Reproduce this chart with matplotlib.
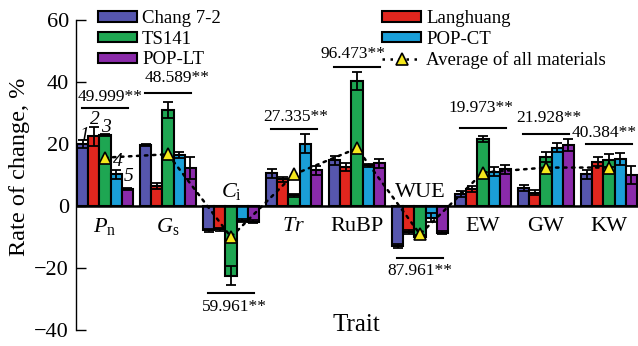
import matplotlib
matplotlib.use("Agg")
import matplotlib.pyplot as plt
import numpy as np
from matplotlib.patches import Patch
from matplotlib.lines import Line2D

plt.rcParams['font.family'] = ['Liberation Serif', 'DejaVu Serif']
plt.rcParams['mathtext.fontset'] = 'custom'
plt.rcParams['mathtext.rm'] = 'Liberation Serif'
plt.rcParams['mathtext.it'] = 'Liberation Serif:italic'

traits = [r'$P_\mathrm{n}$', r'$G_\mathrm{s}$', r'$C_\mathrm{i}$', r'$Tr$', 'RuBP', 'WUE', 'EW', 'GW', 'KW']
series_names = ['Chang 7-2', 'Langhuang', 'TS141', 'POP-CT', 'POP-LT']
chang = [20.0, 19.7, -7.8, 10.5, 14.7, -12.9, 3.8, 5.7, 10.2]
langhuang = [22.5, 6.5, -7.5, 8.6, 12.6, -8.4, 5.4, 4.3, 14.3]
ts141 = [22.8, 30.9, -22.5, 3.5, 40.3, -10.0, 21.5, 15.8, 14.7]
popct = [10.2, 16.5, -4.8, 20.1, 13.2, -3.8, 11.1, 18.8, 15.1]
poplt = [5.4, 12.2, -5.0, 11.5, 13.8, -8.6, 11.8, 19.7, 10.0]
err_chang = [1.2, 0.3, 0.5, 1.5, 1.5, 0.5, 1.0, 1.0, 1.5]
err_lang = [3.0, 1.0, 0.5, 0.8, 1.2, 0.5, 1.0, 0.8, 1.5]
err_ts = [0.3, 2.5, 3.0, 0.5, 3.0, 0.5, 1.0, 1.5, 2.0]
err_ct = [1.5, 1.0, 0.5, 3.0, 0.5, 1.5, 1.5, 1.5, 2.0]
err_lt = [0.3, 3.5, 0.5, 1.5, 1.5, 0.5, 1.5, 2.0, 3.0]
average = [15.6, 16.7, -10.0, 10.2, 18.6, -9.1, 10.8, 12.4, 12.4]
sig_labels = ['49.999**', '48.589**', '59.961**', '27.335**', '96.473**', '87.961**', '19.973**', '21.928**', '40.384**']
sig_line_y = [31.6, 36.5, -28.2, 24.7, 45.0, -16.9, 25.3, 23.3, 20.0]
sig_text_y = [35.2, 41.3, -32.5, 28.6, 48.9, -21.0, 31.5, 28.5, 23.4]
sig_text_dx = [0.08, 0.14, 0.06, 0.03, -0.06, 0.0, -0.03, 0.05, -0.08]
trait_label_y = [-6.5, -6.5, 4.8, -6.5, -6.5, 4.3, -6.5, -6.5, -6.5]
bar_numbers = ['1', '2', '3', '4', '5']
bar_number_y = [22.6, 28.0, 25.2, 14.5, 9.4]

colors = ['#5656AE', '#E1261E', '#1EA652', '#1A9FD8', '#8A2AAA']
values = [chang, langhuang, ts141, popct, poplt]
errors = [err_chang, err_lang, err_ts, err_ct, err_lt]

fig = plt.figure(figsize=(6.38, 3.46), dpi=100)
ax = fig.add_axes([76/638, 16/346, (638-76)/638, 310/346])

x = np.arange(len(traits))
w = 0.178
for i, (vals, errs, c) in enumerate(zip(values, errors, colors)):
    pos = x + (i - 2) * w
    ax.bar(pos, vals, width=w, color=c, edgecolor='black', linewidth=1.5, zorder=2)
    ax.errorbar(pos, vals, yerr=errs, fmt='none', ecolor='black', elinewidth=1.3,
                capsize=3.5, capthick=1.3, zorder=3)

ax.plot(x, average, linestyle=(0, (1, 2.2)), color='black', linewidth=1.8,
        dash_capstyle='round', zorder=4)
ax.plot(x, average, linestyle='none', marker='^', markersize=9, markerfacecolor='#F5E81C',
        markeredgecolor='black', markeredgewidth=1.2, zorder=5)

ax.axhline(0, color='black', linewidth=1.8, zorder=3)

for i in range(len(traits)):
    ax.plot([x[i] - 0.37, x[i] + 0.37], [sig_line_y[i]] * 2, color='black', linewidth=1.5)
    ax.text(x[i] + sig_text_dx[i], sig_text_y[i], sig_labels[i], ha='center', va='center', fontsize=12.5)
    ax.text(x[i], trait_label_y[i], traits[i], ha='center', va='center', fontsize=16)

for i, (t, yy) in enumerate(zip(bar_numbers, bar_number_y)):
    ax.text(x[0] + (i - 2) * w + 0.02, yy, t, ha='center', va='center', fontsize=14, style='italic')

ax.set_xlim(-0.46, 8.46)
ax.set_ylim(-40, 60)
ax.set_yticks([60, 40, 20, 0, -20, -40])
ax.tick_params(axis='y', direction='in', length=7, width=1, labelsize=16, pad=5)
ax.set_xticks([])
for s in ['top', 'right', 'bottom']:
    ax.spines[s].set_visible(False)
ax.spines['left'].set_linewidth(1.0)
ax.patch.set_alpha(0)

h1 = [Patch(facecolor=colors[0], edgecolor='black', linewidth=1.5),
      Patch(facecolor=colors[2], edgecolor='black', linewidth=1.5),
      Patch(facecolor=colors[4], edgecolor='black', linewidth=1.5)]
h2 = [Patch(facecolor=colors[1], edgecolor='black', linewidth=1.5),
      Patch(facecolor=colors[3], edgecolor='black', linewidth=1.5),
      Line2D([], [], linestyle=(0, (1, 2.2)), color='black', linewidth=1.8, marker='^',
             markersize=9, markerfacecolor='#F5E81C', markeredgecolor='black', markeredgewidth=1.2)]
leg_kw = dict(frameon=False, fontsize=13.5, handlelength=2.1, handleheight=0.5,
              handletextpad=0.25, labelspacing=0.2, borderpad=0, borderaxespad=0,
              loc='upper left')
l1 = fig.legend(h1, ['Chang 7-2', 'TS141', 'POP-LT'], bbox_to_anchor=(98/638, 1 - 10/346), **leg_kw)
l2 = fig.legend(h2, ['Langhuang', 'POP-CT', 'Average of all materials'],
                bbox_to_anchor=(382/638, 1 - 10/346), **leg_kw)

fig.text(20/638, 1 - 167/346, 'Rate of change, %', rotation=90, ha='center', va='center', fontsize=17.5)
fig.text(356/638, 1 - 325/346, 'Trait', ha='center', va='center', fontsize=18)

fig.savefig('out.png', dpi=100)
